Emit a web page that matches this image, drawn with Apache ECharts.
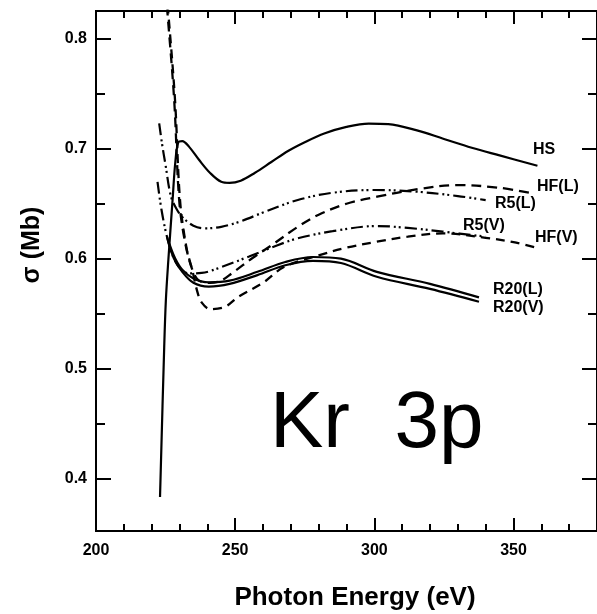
<!DOCTYPE html>
<html>
<head>
<meta charset="utf-8">
<script src="https://cdn.jsdelivr.net/npm/echarts@6/dist/echarts.min.js"></script>
<style>
html,body{margin:0;padding:0;background:#fff;}
#c{width:597px;height:614px;}
</style>
</head>
<body>
<div id="c"></div>
<script>
// ---- data (photon energy eV, cross section Mb) ----
const hsE   = [223.0,224.5,225.1,226.0,227.5,228.5,229.6,231.0,233.4,237.0,241.0,245.0,248.0,252.0,257.0,263.0,269.0,275.0,282.0,290.0,298.0,305.0,315.0,325.0,335.0,345.0,358.6];
const hsS   = [0.383,0.519,0.562,0.599,0.653,0.688,0.706,0.707,0.702,0.690,0.678,0.670,0.669,0.671,0.678,0.688,0.698,0.706,0.714,0.720,0.723,0.7225,0.717,0.709,0.701,0.694,0.6846];

const hfLE  = [224.9,225.7,228.1,229.9,232.0,234.6,237.0,241.0,245.0,249.0,256.5,263.0,272.5,280.0,290.0,301.0,315.0,330.0,345.0,356.6];
const hfLS  = [0.845,0.823,0.744,0.653,0.615,0.590,0.580,0.578,0.580,0.587,0.601,0.612,0.629,0.640,0.650,0.6564,0.663,0.667,0.6645,0.6595];

const hfVE  = [225.2,226.0,228.4,230.2,232.5,234.6,236.4,238.0,241.1,246.4,251.2,260.0,267.7,280.0,290.0,300.9,312.0,324.6,340.0,350.0,359.0];
const hfVS  = [0.845,0.823,0.744,0.653,0.610,0.5896,0.570,0.560,0.554,0.5562,0.5653,0.578,0.5926,0.603,0.610,0.6154,0.620,0.623,0.619,0.615,0.6094];

const r5LE  = [222.7,223.7,225.0,226.9,229.0,231.0,235.0,239.3,245.0,252.0,260.0,272.5,285.0,300.0,315.0,330.0,340.0];
const r5LS  = [0.7232,0.705,0.685,0.657,0.645,0.638,0.630,0.6276,0.629,0.634,0.642,0.6534,0.660,0.6625,0.661,0.657,0.6533];

const r5VE  = [222.1,223.5,225.5,228.0,231.0,233.4,238.0,245.3,255.0,265.0,272.5,285.0,300.9,312.0,324.6,340.0];
const r5VS  = [0.670,0.645,0.620,0.600,0.589,0.5866,0.587,0.5926,0.602,0.612,0.6185,0.625,0.6297,0.628,0.6246,0.620];

const r20LE = [226.3,228.5,231.0,235.0,240.5,248.0,258.0,268.0,278.0,288.0,300.9,320.0,337.6];
const r20LS = [0.614,0.600,0.590,0.582,0.5785,0.580,0.588,0.597,0.6015,0.600,0.588,0.577,0.5647];

const r20VE = [225.5,228.0,231.0,235.0,240.5,248.0,258.0,268.0,278.0,288.0,300.9,320.0,337.6];
const r20VS = [0.620,0.600,0.588,0.578,0.5745,0.577,0.585,0.594,0.598,0.596,0.5835,0.5725,0.5608];

// ---- axis ticks ----
const xMajor = [200,250,300,350];
const xMinor = [210,220,230,240,260,270,280,290,310,320,330,340,360,370];
const yMajor = [0.4,0.5,0.6,0.7,0.8];
const yMinor = [0.45,0.55,0.65,0.75];

const curveNames = ['HS','HF(L)','R5(L)','R5(V)','HF(V)','R20(L)','R20(V)'];

function pairs(a,b){ return a.map((v,i)=>[v,b[i]]); }

const chart = echarts.init(document.getElementById('c'), null, {renderer:'canvas'});
const FONT = 'Liberation Sans, Arial, sans-serif';
const lineCol = '#000';

function xAx(pos, ticks, len, labels){
  return {
    type:'value', position:pos, min:200, max:380, gridIndex:0,
    axisLine:{show:true, lineStyle:{color:lineCol, width:2}},
    axisTick:{show:true, inside:true, length:len, customValues:ticks, lineStyle:{color:lineCol,width:2}},
    axisLabel:{show:labels, customValues:ticks, margin:12, color:'#000', fontFamily:FONT, fontWeight:'bold', fontSize:16},
    splitLine:{show:false}
  };
}
function yAx(pos, ticks, len, labels){
  return {
    type:'value', position:pos, min:0.352, max:0.8255, gridIndex:0,
    axisLine:{show:true, onZero:false, lineStyle:{color:lineCol, width:2}},
    axisTick:{show:true, inside:true, length:len, customValues:ticks, lineStyle:{color:lineCol,width:2}},
    axisLabel:{show:labels, customValues:ticks, margin:9, color:'#000', fontFamily:FONT, fontWeight:'bold', fontSize:16,
      formatter:(v)=>Number(v).toFixed(1)},
    splitLine:{show:false}
  };
}

function ser(name, E, S, dash, w){
  return {
    name, type:'line', xAxisIndex:0, yAxisIndex:0,
    data:pairs(E,S), showSymbol:false, symbol:'none', smooth:0.35, clip:true,
    lineStyle:{color:'#000', width:w||2, type:dash}
  };
}

const dotdash = [12,4,2,3,2,4];
const series = [
  ser(curveNames[0], hsE, hsS, 'solid', 2.2),
  ser(curveNames[1], hfLE, hfLS, [10,6], 2.3),
  ser(curveNames[2], r5LE, r5LS, dotdash, 2.2),
  ser(curveNames[3], r5VE, r5VS, dotdash, 2.2),
  ser(curveNames[4], hfVE, hfVS, [9,6], 2.3),
  ser(curveNames[5], r20LE, r20LS, 'solid', 2.2),
  ser(curveNames[6], r20VE, r20VS, 'solid', 2.2)
];

const labelPos = [[533,150],[537,187],[495,204],[463,226],[535,238],[493,290],[493,308]];
const graphics = curveNames.map((n,i)=>({
  type:'text', x:labelPos[i][0], y:labelPos[i][1],
  style:{text:n, font:'bold 16px '+FONT, fill:'#000', textVerticalAlign:'middle', textAlign:'left'}
}));
graphics.push({type:'text', x:270, y:425, style:{text:'Kr  3p', font:'80px '+FONT, fill:'#000', textVerticalAlign:'middle', textAlign:'left'}});
graphics.push({type:'text', x:32, y:245, rotation:Math.PI/2, style:{text:'σ (Mb)', font:'bold 25px '+FONT, fill:'#000', textVerticalAlign:'middle', textAlign:'center'}});
graphics.push({type:'text', x:355, y:598, style:{text:'Photon Energy (eV)', font:'bold 26px '+FONT, fill:'#000', textVerticalAlign:'middle', textAlign:'center'}});

chart.setOption({
  animation:false,
  backgroundColor:'#fff',
  grid:{left:96, top:11, width:507, height:520, containLabel:false},
  xAxis:[
    xAx('bottom', xMajor, 13, true),
    xAx('bottom', xMinor, 7, false),
    xAx('top', xMajor.filter(v=>v>200), 13, false),
    xAx('top', xMinor, 7, false)
  ],
  yAxis:[
    yAx('left', yMajor, 15, true),
    yAx('left', yMinor, 9, false),
    yAx('right', yMajor, 15, false),
    yAx('right', yMinor, 9, false)
  ],
  series,
  graphic:graphics
});
</script>
</body>
</html>
